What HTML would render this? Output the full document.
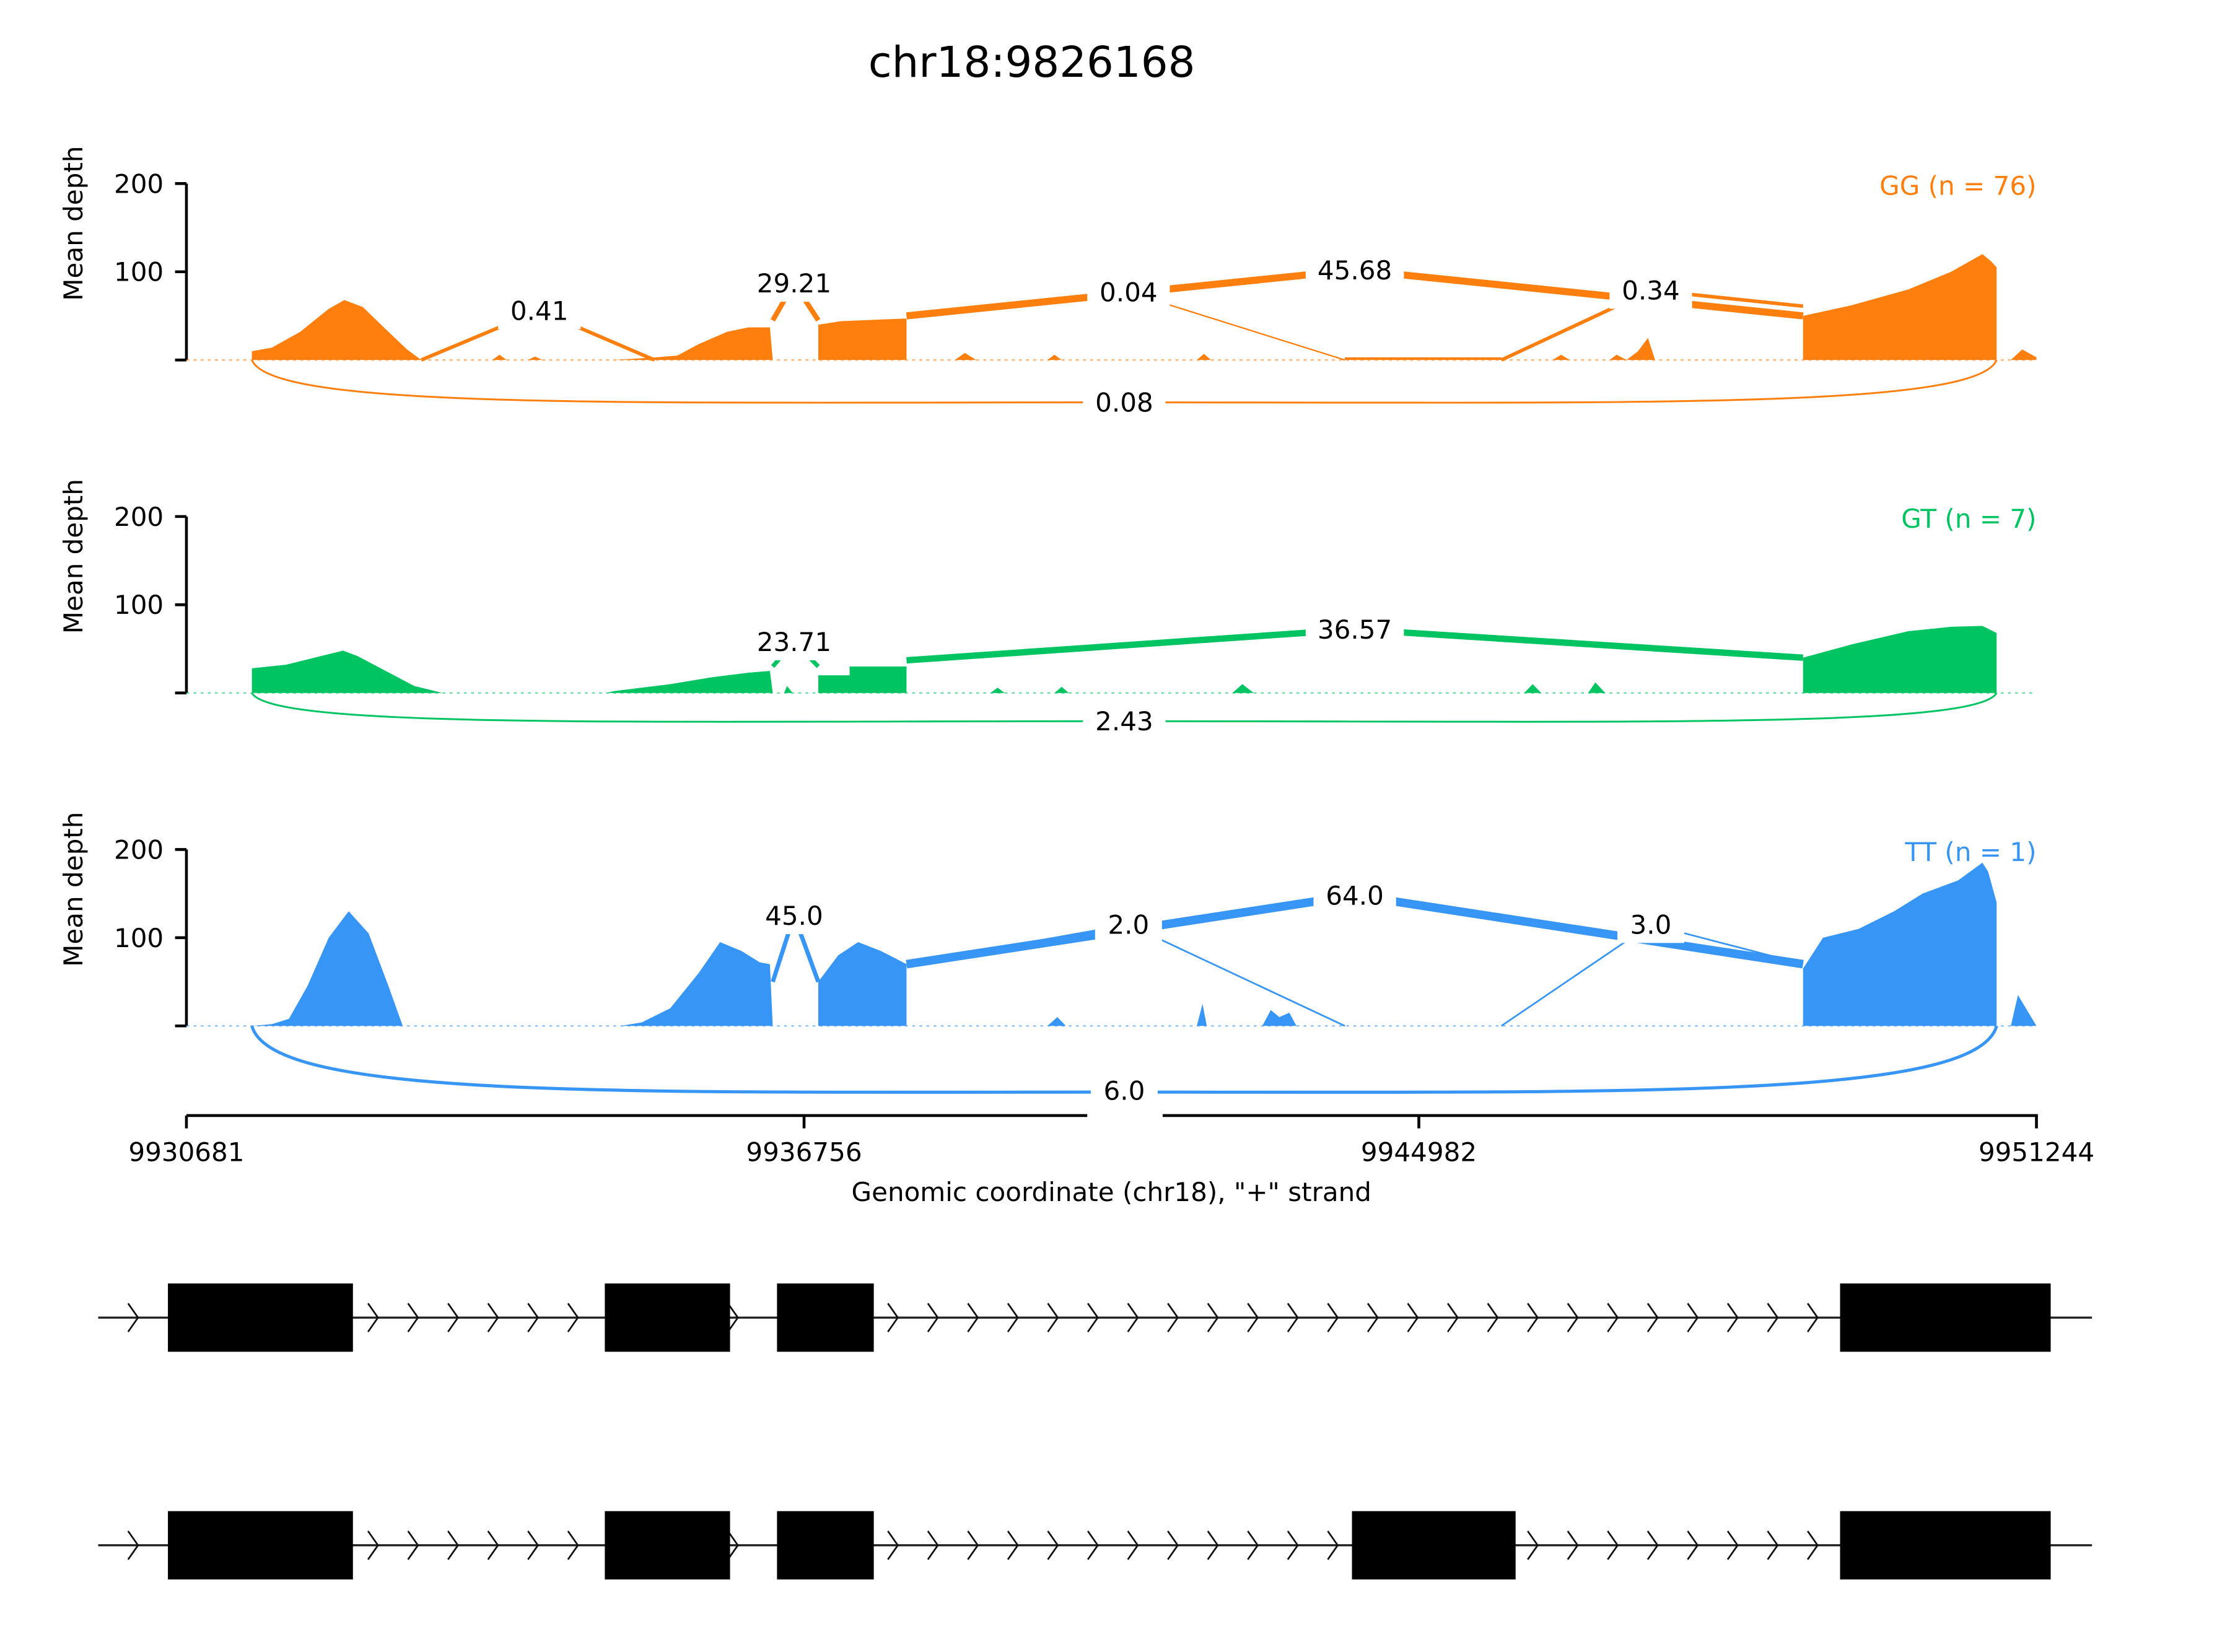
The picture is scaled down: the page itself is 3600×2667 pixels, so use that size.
<!DOCTYPE html>
<html><head><meta charset="utf-8"><style>html,body{margin:0;padding:0;background:#fff}svg{display:block}text{font-family:"DejaVu Sans","Liberation Sans",sans-serif}</style></head>
<body>
<svg id="chart" width="3600" height="2667" viewBox="0 0 1567 1161" preserveAspectRatio="none" xmlns="http://www.w3.org/2000/svg">
<text x="725" y="54" font-size="30" text-anchor="middle">chr18:9826168</text>
</svg>
<script>
// axis-position (0..1300) coverage profiles [pos, depth]
const ggCov=[[46,0],[46,10],[60,14],[80,32],[100,58],[111,68],[124,60],[140,35],[155,12],[165,0],[215,0],[220,6],[225,0],[240,0],[245,4],[250,0],[300,0],[330,3],[345,5],[360,18],[380,32],[395,37],[410,37],[412,0],[444,0],[444,40],[460,44],[490,46],[506,47],[506,0],[540,0],[547,8],[555,0],[605,0],[610,6],[615,0],[710,0],[715,7],[720,0],[814,0],[814,3],[924,3],[924,0],[960,0],[966,6],[972,0],[1000,0],[1005,6],[1012,0],[1020,10],[1027,25],[1032,0],[1136,0],[1136,50],[1170,62],[1210,80],[1240,100],[1262,120],[1268,112],[1272,105],[1272,0],[1282,0],[1290,12],[1300,3],[1300,0]];
const gtCov=[[46,0],[46,28],[70,32],[90,40],[110,48],[120,42],[140,25],[160,8],[180,0],[295,0],[300,2],[340,10],[370,18],[395,23],[410,25],[412,0],[420,0],[422,8],[426,0],[444,0],[444,20],[466,20],[466,30],[506,30],[506,0],[565,0],[570,6],[575,0],[610,0],[615,7],[620,0],[735,0],[742,10],[750,0],[940,0],[946,10],[952,0],[985,0],[990,12],[997,0],[1136,0],[1136,40],[1170,55],[1210,70],[1240,75],[1262,76],[1272,68],[1272,0]];
const ttCov=[[46,0],[60,2],[72,8],[85,45],[100,100],[114,130],[128,105],[142,45],[152,0],[305,0],[320,4],[340,20],[360,60],[375,95],[390,85],[403,72],[410,70],[412,0],[444,0],[444,50],[458,80],[472,95],[488,85],[506,70],[506,0],[605,0],[612,10],[618,0],[710,0],[714,25],[717,0],[756,0],[762,18],[768,10],[775,15],[780,0],[1136,0],[1136,65],[1150,100],[1175,110],[1200,130],[1220,150],[1245,165],[1262,185],[1266,175],[1272,140],[1272,0],[1282,0],[1287,35],[1300,0]];
// junctions: [start, startDepth, peakPos, peakDepth, end, endDepth, value]
const ggJ=[[165,0,248,56,329,0,"0.41"],[412,45,427,87,444,45,"29.21"],[506,50,662,77,814,0,"0.04"],[506,50,821,102,1136,50,"45.68"],[924,0,1029,79,1136,61,"0.34"]];
const gtJ=[[412,30,427,58,444,30,"23.71"],[506,37,821,72,1136,40,"36.57"]];
const ttJ=[[412,50,427,125,444,50,"45.0"],[506,70,662,115,814,0,"2.0"],[506,70,821,148,1136,70,"64.0"],[924,0,1029,115,1136,70,"3.0"]];
const ggWidth=[2.5,3.5,1,5,2.5], gtWidth=[3,4.5], ttWidth=[3,1.2,6,1.2];
const belowArc=["0.08","2.43","6.0"], belowDepth=[-48,-32,-75];
const yTicks=[100,200];
const xTickLabels=["9930681","9936756","9944982","9951244"], xTickPos=[0,434,866,1300];
const NS="http://www.w3.org/2000/svg", svg=document.getElementById('chart');
function el(t,a,p){const e=document.createElementNS(NS,t);for(const k in a)e.setAttribute(k,a[k]);(p||svg).appendChild(e);return e;}
const X=p=>131+p;
const FS=18.3;
const panels=[{cov:ggCov,j:ggJ,w:ggWidth,col:"#ff7f0e",base:253,lab:"GG (n = 76)",k:0},{cov:gtCov,j:gtJ,w:gtWidth,col:"#00c462",base:487,lab:"GT (n = 7)",k:1},{cov:ttCov,j:ttJ,w:ttWidth,col:"#3796f5",base:721,lab:"TT (n = 1)",k:2}];
const sc=0.62;
panels.forEach(P=>{
  const Y=d=>P.base-d*sc;
  const g=el('g',{});
  
  
  el('line',{x1:131,y1:P.base,x2:131,y2:Y(200),stroke:'#000','stroke-width':2},g);
  [0].concat(yTicks).forEach(t=>{el('line',{x1:123,y1:Y(t),x2:131,y2:Y(t),stroke:'#000','stroke-width':2},g);
    if(t){const tt=el('text',{x:115,y:Y(t)+6.5,'font-size':FS,'text-anchor':'end'},g);tt.textContent=t;
    }});
  const cy=P.base-96;
  const yl=el('text',{x:58,y:cy,'font-size':FS,'text-anchor':'middle',transform:`rotate(-90 58 ${cy})`},g);yl.textContent='Mean depth';
  
  el('line',{x1:131,y1:P.base,x2:1431,y2:P.base,stroke:P.col,'stroke-width':1,'stroke-dasharray':'2 3','opacity':0.6},g);
  const cov=el('polygon',{points:P.cov.map(p=>X(p[0])+','+Y(p[1])).join(' '),fill:P.col},g);
  
  const by=P.base-belowDepth[P.k]*sc;
  const arc=el('path',{d:`M${X(46)},${P.base} C${X(60)},${by+5} ${X(300)},${by} ${X(659)},${by} C${X(1018)},${by} ${X(1258)},${by+5} ${X(1272)},${P.base}`,fill:'none',stroke:P.col,'stroke-width':P.k==2?2.2:1.3},g);
  
  const jl=[];
  P.j.forEach((j,i)=>{
    const ln=el('polyline',{points:`${X(j[0])},${Y(j[1])} ${X(j[2])},${Y(j[3])} ${X(j[4])},${Y(j[5])}`,fill:'none',stroke:P.col,'stroke-width':P.w[i],'stroke-linejoin':'miter'},g);
    
    jl.push([X(j[2]),Y(j[3]),j[6]]);
  });
  jl.push([X(659),by,belowArc[P.k]]);
  jl.forEach(l=>{
    const w=l[2].length*11+14;
    el('rect',{x:l[0]-w/2,y:l[1]-13,width:w,height:26,fill:'#fff'},g);
    const t=el('text',{x:l[0],y:l[1]+6.5,'font-size':FS,'text-anchor':'middle'},g);t.textContent=l[2];
    
  });
  const lg=el('text',{x:1431,y:Y(200)+8,'font-size':FS,'text-anchor':'end',fill:P.col},g);lg.textContent=P.lab;
  
});
const xa=el('g',{});


el('line',{x1:131,y1:784,x2:1432,y2:784,stroke:'#000','stroke-width':2},xa);
xTickPos.forEach((p,i)=>{el('line',{x1:X(p),y1:784,x2:X(p),y2:793,stroke:'#000','stroke-width':2},xa);
  const t=el('text',{x:X(p),y:816,'font-size':FS,'text-anchor':'middle'},xa);t.textContent=xTickLabels[i];
  });
el('rect',{x:764,y:770,width:53,height:22,fill:'#fff'},xa);
const xt=el('text',{x:781,y:844,'font-size':FS,'text-anchor':'middle'},xa);xt.textContent='Genomic coordinate (chr18), "+" strand';

el('rect',{x:770,y:754,width:42,height:26,fill:'#fff'});
const t6=el('text',{x:790,y:773,'font-size':FS,'text-anchor':'middle'});t6.textContent='6.0';

const exons1=[[118,248],[425,513],[546,614],[1293,1441]];
const exons2=[[118,248],[425,513],[546,614],[950,1065],[1293,1441]];
[[926,exons1],[1086,exons2]].forEach((tr,ti)=>{
  const g=el('g',{});
  
  
  const y=tr[0];
  el('line',{x1:69,y1:y,x2:1470,y2:y,stroke:'#222','stroke-width':1.5},g);
  for(let x=95;x<1285;x+=28.1){
    if(tr[1].some(e=>x>e[0]-3&&x<e[1]+3))continue;
    el('polyline',{points:`${x-5},${y-10} ${x+2},${y} ${x-5},${y+10}`,fill:'none',stroke:'#111','stroke-width':1.2},g);
  }
  tr[1].forEach(e=>{const r=el('rect',{x:e[0],y:y-24,width:e[1]-e[0],height:48,fill:'#000'},g);
    });
});
</script>
</body></html>
